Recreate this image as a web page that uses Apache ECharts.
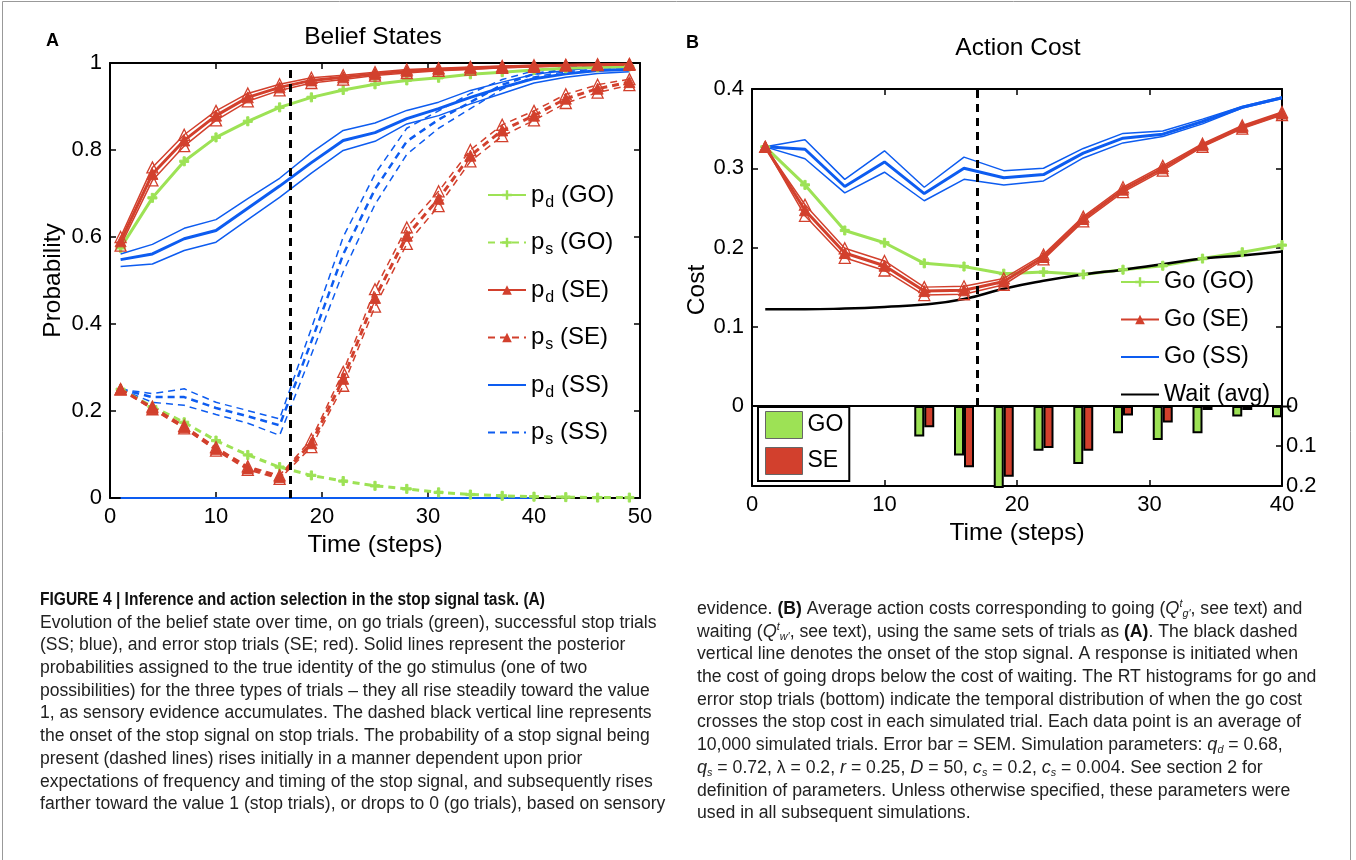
<!DOCTYPE html>
<html lang="en">
<head>
<meta charset="UTF-8">
<title>stop signal task</title>
<script src="https://cdn.jsdelivr.net/npm/echarts@6/dist/echarts.min.js"></script>
<style>
    html, body { margin: 0; padding: 0; background: #fff; }
    #main { width: 1356px; height: 860px; }
</style>
</head>
<body>
<div id="main"></div>
<script>
// ---- panel A : belief states (time steps 1..49, every 3rd step) ----
var stepsA = [1, 4, 7, 10, 13, 16, 19, 22, 25, 28, 31, 34, 37, 40, 43, 46, 49];
var pdGO = [0.575, 0.69, 0.774, 0.829, 0.866, 0.898, 0.921, 0.938, 0.951, 0.96, 0.966, 0.974, 0.979, 0.984, 0.988, 0.99, 0.992];
var psGO = [0.25, 0.21, 0.174, 0.132, 0.099, 0.071, 0.052, 0.039, 0.028, 0.021, 0.013, 0.008, 0.005, 0.003, 0.002, 0.001, 0.001];
var pdSE = [0.59, 0.745, 0.822, 0.879, 0.921, 0.944, 0.96, 0.967, 0.975, 0.981, 0.985, 0.988, 0.991, 0.993, 0.995, 0.996, 0.997];
var pdSEhi = [0.6, 0.76, 0.835, 0.89, 0.93, 0.951, 0.966, 0.972, 0.979, 0.985, 0.988, 0.991, 0.993, 0.995, 0.996, 0.997, 0.998];
var pdSElo = [0.58, 0.73, 0.809, 0.868, 0.912, 0.937, 0.954, 0.962, 0.971, 0.977, 0.982, 0.985, 0.989, 0.991, 0.994, 0.995, 0.996];
var psSE = [0.25, 0.207, 0.163, 0.113, 0.069, 0.048, 0.126, 0.274, 0.46, 0.603, 0.688, 0.787, 0.845, 0.879, 0.918, 0.941, 0.956];
var psSEhi = [0.25, 0.21, 0.166, 0.117, 0.073, 0.052, 0.135, 0.29, 0.48, 0.622, 0.705, 0.8, 0.858, 0.89, 0.928, 0.95, 0.963];
var psSElo = [0.25, 0.204, 0.16, 0.109, 0.065, 0.044, 0.117, 0.258, 0.44, 0.584, 0.671, 0.774, 0.832, 0.868, 0.908, 0.932, 0.949];
var pdSS = [0.548, 0.561, 0.596, 0.615, 0.666, 0.717, 0.771, 0.822, 0.84, 0.872, 0.895, 0.921, 0.944, 0.964, 0.975, 0.983, 0.985];
var pdSShi = [0.561, 0.583, 0.62, 0.64, 0.688, 0.735, 0.794, 0.845, 0.862, 0.891, 0.91, 0.937, 0.956, 0.974, 0.983, 0.99, 0.99];
var pdSSlo = [0.532, 0.538, 0.569, 0.588, 0.64, 0.691, 0.747, 0.799, 0.82, 0.86, 0.879, 0.906, 0.93, 0.954, 0.967, 0.976, 0.98];
var psSS = [0.25, 0.232, 0.232, 0.207, 0.188, 0.167, 0.36, 0.56, 0.71, 0.82, 0.87, 0.91, 0.95, 0.975, 0.985, 0.99, 0.99];
var psSShi = [0.25, 0.24, 0.251, 0.22, 0.201, 0.182, 0.39, 0.6, 0.745, 0.85, 0.89, 0.93, 0.962, 0.982, 0.99, 0.994, 0.994];
var psSSlo = [0.25, 0.22, 0.213, 0.192, 0.172, 0.144, 0.33, 0.52, 0.675, 0.79, 0.85, 0.895, 0.94, 0.968, 0.98, 0.986, 0.986];
var baseSS = [0, 0, 0, 0, 0, 0, 0, 0, 0, 0, 0, 0, 0, 0];

// ---- panel B : action cost (time steps 1..40) ----
var stepsB = [1, 4, 7, 10, 13, 16, 19, 22, 25, 28, 31, 34, 37, 40];
var goGO = [0.327, 0.279, 0.2215, 0.206, 0.18, 0.176, 0.167, 0.169, 0.166, 0.172, 0.177, 0.186, 0.194, 0.203];
var goSE = [0.327, 0.247, 0.193, 0.177, 0.145, 0.146, 0.157, 0.188, 0.236, 0.273, 0.3, 0.329, 0.352, 0.369];
var goSEhi = [0.327, 0.254, 0.199, 0.183, 0.15, 0.151, 0.161, 0.191, 0.239, 0.276, 0.303, 0.331, 0.354, 0.371];
var goSElo = [0.327, 0.24, 0.187, 0.171, 0.14, 0.141, 0.153, 0.185, 0.233, 0.27, 0.297, 0.327, 0.35, 0.367];
var goSS = [0.327, 0.324, 0.277, 0.308, 0.268, 0.3, 0.288, 0.292, 0.319, 0.338, 0.343, 0.359, 0.377, 0.389];
var goSShi = [0.327, 0.336, 0.286, 0.322, 0.276, 0.314, 0.297, 0.3, 0.325, 0.344, 0.347, 0.362, 0.378, 0.39];
var goSSlo = [0.327, 0.312, 0.269, 0.295, 0.259, 0.286, 0.279, 0.284, 0.313, 0.332, 0.34, 0.356, 0.376, 0.388];
var waitAvg = [0.122, 0.122, 0.123, 0.125, 0.128, 0.135, 0.148, 0.158, 0.166, 0.172, 0.179, 0.186, 0.19, 0.195];

// RT histograms (bottom of panel B)
var histSteps = [13, 16, 19, 22, 25, 28, 31, 34, 37, 40];
var histGO = [0.076, 0.124, 0.205, 0.112, 0.145, 0.068, 0.085, 0.068, 0.026, 0.028];
var histSE = [0.053, 0.153, 0.177, 0.105, 0.112, 0.024, 0.041, 0.01, 0.01, 0.003];

var stopOnset = 17;

// tick ranges
var ticksA = {xmin: 0, xmax: 50, xstep: 10, ymin: 0, ymax: 1, ystep: 0.2};
var ticksB = {xmin: 0, xmax: 40, xstep: 10, ymin: 0, ymax: 0.4, ystep: 0.1, hmax: 0.2, hstep: 0.1};

var FONT = 'Liberation Sans';
var GREEN = '#9de255', RED = '#d2402d', BLUE = '#0d5cf0';
var PLUS = 'path://M3,0H5V3H8V5H5V8H3V5H0V3H3Z';
var TRI = 'path://M5,0L10,9H0Z';

function pts(xs, ys) {
    return xs.map(function (x, i) { return [x, ys[i]]; });
}

function line(name, xi, xs, ys, color, width, dashed, symbol, size) {
    var s = {
        name: name,
        type: 'line',
        xAxisIndex: xi,
        yAxisIndex: xi,
        data: pts(xs, ys),
        symbol: symbol || 'circle',
        symbolSize: size || 8,
        showSymbol: !!symbol,
        lineStyle: {color: color, width: width, type: dashed ? [7, 5] : 'solid'},
        itemStyle: {color: symbol ? color : 'rgba(0,0,0,0)', borderColor: color},
        z: 3,
        silent: true
    };
    if (symbol === TRI) {
        // hollow triangles on the +/- SEM curves
        s.itemStyle = {color: 'rgba(0,0,0,0)', borderColor: color, borderWidth: 1.3};
    }
    return s;
}

function axis(extra) {
    var a = {
        axisLine: {show: true, onZero: false, lineStyle: {color: '#000', width: 2}},
        axisTick: {show: true, inside: true, length: 6, lineStyle: {color: '#000', width: 1.5}},
        splitLine: {show: false},
        axisLabel: {show: true, color: '#000', fontSize: 22, fontFamily: FONT, margin: 8}
    };
    for (var k in extra) a[k] = extra[k];
    return a;
}
var noLabel = {show: false};
var nameStyle = {color: '#000', fontSize: 24.5, fontFamily: FONT};

var vline = {
    silent: true,
    symbol: 'none',
    label: {show: false},
    lineStyle: {color: '#000', type: [8, 6], width: 3},
    data: [{xAxis: stopOnset}]
};

var series = [
    line('p_d (SS)', 0, stepsA, pdSS, BLUE, 3, false),
    line('pdSS hi', 0, stepsA, pdSShi, BLUE, 1.5, false),
    line('pdSS lo', 0, stepsA, pdSSlo, BLUE, 1.5, false),
    line('p_s (SS)', 0, stepsA, psSS, BLUE, 2.5, true),
    line('psSS hi', 0, stepsA, psSShi, BLUE, 1.5, true),
    line('psSS lo', 0, stepsA, psSSlo, BLUE, 1.5, true),
    line('base SS', 0, stepsB, baseSS, BLUE, 2, false),
    line('p_d (GO)', 0, stepsA, pdGO, GREEN, 3, false, PLUS, 9),
    line('p_s (GO)', 0, stepsA, psGO, GREEN, 3, true, PLUS, 9),
    line('pdSE hi', 0, stepsA, pdSEhi, RED, 1.5, false, TRI, 11),
    line('pdSE lo', 0, stepsA, pdSElo, RED, 1.5, false, TRI, 11),
    line('p_d (SE)', 0, stepsA, pdSE, RED, 3, false, 'triangle', 11),
    line('psSE hi', 0, stepsA, psSEhi, RED, 1.5, true, TRI, 11),
    line('psSE lo', 0, stepsA, psSElo, RED, 1.5, true, TRI, 11),
    line('p_s (SE)', 0, stepsA, psSE, RED, 3, true, 'triangle', 11),

    line('Go (GO)', 2, stepsB, goGO, GREEN, 3, false, PLUS, 9),
    line('goSE hi', 2, stepsB, goSEhi, RED, 1.5, false, TRI, 11),
    line('goSE lo', 2, stepsB, goSElo, RED, 1.5, false, TRI, 11),
    line('Go (SE)', 2, stepsB, goSE, RED, 3, false, 'triangle', 11),
    line('goSS hi', 2, stepsB, goSShi, BLUE, 1.5, false),
    line('goSS lo', 2, stepsB, goSSlo, BLUE, 1.5, false),
    line('Go (SS)', 2, stepsB, goSS, BLUE, 3, false),
    line('Wait (avg)', 2, stepsB, waitAvg, '#000', 2.5, false)
];
series[7].markLine = vline;
series[series.length - 1].smooth = true;
series[series.length - 1].markLine = vline;

series.push({
    name: 'GO', type: 'bar', xAxisIndex: 4, yAxisIndex: 4,
    data: pts(histSteps, histGO), barWidth: 10, barGap: '0%', clip: false,
    itemStyle: {color: GREEN, borderColor: '#000', borderWidth: 2}, silent: true
});
series.push({
    name: 'SE', type: 'bar', xAxisIndex: 4, yAxisIndex: 4,
    data: pts(histSteps, histSE), barWidth: 10, barGap: '0%', clip: false,
    itemStyle: {color: RED, borderColor: '#000', borderWidth: 2}, silent: true
});

var capHead = 'FIGURE 4 | Inference and action selection in the stop signal task. (A)';
var capLeft = [
    'Evolution of the belief state over time, on go trials (green), successful stop trials',
    '(SS; blue), and error stop trials (SE; red). Solid lines represent the posterior',
    'probabilities assigned to the true identity of the go stimulus (one of two',
    'possibilities) for the three types of trials \u2013 they all rise steadily toward the value',
    '1, as sensory evidence accumulates. The dashed black vertical line represents',
    'the onset of the stop signal on stop trials. The probability of a stop signal being',
    'present (dashed lines) rises initially in a manner dependent upon prior',
    'expectations of frequency and timing of the stop signal, and subsequently rises',
    'farther toward the value 1 (stop trials), or drops to 0 (go trials), based on sensory'
];
var capRight = [
    'evidence. {b|(B)} Average action costs corresponding to going ({i|Q}{sup|t}{sub|g\'}, see text) and',
    'waiting ({i|Q}{sup|t}{sub|w\'}, see text), using the same sets of trials as {b|(A)}. The black dashed',
    'vertical line denotes the onset of the stop signal. A response is initiated when',
    'the cost of going drops below the cost of waiting. The RT histograms for go and',
    'error stop trials (bottom) indicate the temporal distribution of when the go cost',
    'crosses the stop cost in each simulated trial. Each data point is an average of',
    '10,000 simulated trials. Error bar = SEM. Simulation parameters: {i|q}{sub|d} = 0.68,',
    '{i|q}{sub|s} = 0.72, \u03bb = 0.2, {i|r} = 0.25, {i|D} = 50, {i|c}{sub|s} = 0.2, {i|c}{sub|s} = 0.004. See section 2 for',
    'definition of parameters. Unless otherwise specified, these parameters were',
    'used in all subsequent simulations.'
];
var capRich = {
    b: {fontFamily: FONT, fontSize: 18, fontWeight: 'bold', fill: '#111'},
    i: {fontFamily: FONT, fontSize: 18.5, fontStyle: 'italic', fill: '#222'},
    sup: {fontFamily: FONT, fontSize: 11, fontStyle: 'italic', fill: '#222', padding: [0, 0, 10, 0]},
    sub: {fontFamily: FONT, fontSize: 11, fontStyle: 'italic', fill: '#222', padding: [10, 0, 0, 0]}
};

var graphics = [
    {type: 'rect', shape: {x: 2.5, y: 1.5, width: 1348, height: 870}, style: {fill: 'none', stroke: '#999', lineWidth: 1}, silent: true},
    {type: 'text', x: 46, y: 41, style: {text: 'A', fontFamily: FONT, fontSize: 18, fontWeight: 'bold', fill: '#000', verticalAlign: 'middle'}},
    {type: 'text', x: 686, y: 43, style: {text: 'B', fontFamily: FONT, fontSize: 18, fontWeight: 'bold', fill: '#000', verticalAlign: 'middle'}},
    {type: 'text', x: 373, y: 37, style: {text: 'Belief States', fontFamily: FONT, fontSize: 24.5, fill: '#000', align: 'center', verticalAlign: 'middle'}},
    {type: 'text', x: 1018, y: 48, style: {text: 'Action Cost', fontFamily: FONT, fontSize: 24.5, fill: '#000', align: 'center', verticalAlign: 'middle'}},
    {type: 'text', x: 697, y: 290, rotation: Math.PI / 2, style: {text: 'Cost', fontFamily: FONT, fontSize: 24.5, fill: '#000', align: 'center', verticalAlign: 'middle'}},
    {type: 'text', x: 40, y: 600, scaleX: 0.863, style: {text: capHead, fontFamily: FONT, fontSize: 18, fontWeight: 'bold', fill: '#111', verticalAlign: 'middle'}}
];
capLeft.forEach(function (t, i) {
    graphics.push({type: 'text', x: 40, y: 622.7 + i * 22.7, scaleX: 0.975, style: {
        text: t, rich: capRich, fontFamily: FONT, fontSize: 18, fill: '#222', verticalAlign: 'middle'}});
});
capRight.forEach(function (t, i) {
    graphics.push({type: 'text', x: 697, y: 609 + i * 22.7, scaleX: 0.98, style: {
        text: t, rich: capRich, fontFamily: FONT, fontSize: 18, fill: '#222', verticalAlign: 'middle'}});
});

var legendText = {color: '#000', fontSize: 24, fontFamily: FONT,
    rich: {s: {fontSize: 16, fontFamily: FONT, color: '#000', padding: [15, 0, 0, 1]}}};

var option = {
    animation: false,
    backgroundColor: '#fff',
    grid: [
        {left: 110, top: 63, width: 530, height: 435},
        {left: 752, top: 89, width: 530, height: 317},
        {left: 752, top: 406, width: 530, height: 80}
    ],
    xAxis: [
        axis({type: 'value', gridIndex: 0, position: 'bottom', min: ticksA.xmin, max: ticksA.xmax, interval: ticksA.xstep,
            name: 'Time (steps)', nameLocation: 'middle', nameGap: 27, nameTextStyle: nameStyle}),
        axis({type: 'value', gridIndex: 0, position: 'top', min: ticksA.xmin, max: ticksA.xmax, interval: ticksA.xstep, axisLabel: noLabel}),
        axis({type: 'value', gridIndex: 1, position: 'bottom', min: ticksB.xmin, max: ticksB.xmax, interval: ticksB.xstep, axisLabel: noLabel, axisTick: {show: false}}),
        axis({type: 'value', gridIndex: 1, position: 'top', min: ticksB.xmin, max: ticksB.xmax, interval: ticksB.xstep, axisLabel: noLabel}),
        axis({type: 'value', gridIndex: 2, position: 'bottom', min: ticksB.xmin, max: ticksB.xmax, interval: ticksB.xstep,
            name: 'Time (steps)', nameLocation: 'middle', nameGap: 35, nameTextStyle: nameStyle})
    ],
    yAxis: [
        axis({type: 'value', gridIndex: 0, position: 'left', min: ticksA.ymin, max: ticksA.ymax, interval: ticksA.ystep,
            name: 'Probability', nameLocation: 'middle', nameGap: 44, nameTextStyle: nameStyle}),
        axis({type: 'value', gridIndex: 0, position: 'right', min: ticksA.ymin, max: ticksA.ymax, interval: ticksA.ystep, axisLabel: noLabel}),
        axis({type: 'value', gridIndex: 1, position: 'left', min: ticksB.ymin, max: ticksB.ymax, interval: ticksB.ystep}),
        axis({type: 'value', gridIndex: 1, position: 'right', min: ticksB.ymin, max: ticksB.ymax, interval: ticksB.ystep, axisLabel: noLabel}),
        axis({type: 'value', gridIndex: 2, position: 'right', inverse: true, min: 0, max: ticksB.hmax, interval: ticksB.hstep,
            axisLabel: {show: true, color: '#000', fontSize: 22, fontFamily: FONT, margin: 4}}),
        axis({type: 'value', gridIndex: 2, position: 'left', min: 0, max: ticksB.hmax, interval: ticksB.hstep, axisLabel: noLabel, axisTick: {show: false}})
    ],
    legend: [
        {
            data: ['p_d (GO)', 'p_s (GO)', 'p_d (SE)', 'p_s (SE)', 'p_d (SS)', 'p_s (SS)'],
            orient: 'vertical', left: 487, top: 183, padding: 0, itemWidth: 38, itemHeight: 12, itemGap: 20,
            selectedMode: false, textStyle: legendText,
            formatter: function (n) { return n.replace(/p_(\w)/, 'p{s|$1}'); }
        },
        {
            data: ['Go (GO)', 'Go (SE)', 'Go (SS)', 'Wait (avg)'],
            orient: 'vertical', left: 1120, top: 270, padding: 0, itemWidth: 38, itemHeight: 12, itemGap: 13.5,
            selectedMode: false, textStyle: {color: '#000', fontSize: 23.5, fontFamily: FONT}
        },
        {
            data: ['GO', 'SE'],
            orient: 'vertical', left: 758, top: 407, itemWidth: 37, itemHeight: 27, itemGap: 8,
            padding: [4, 6, 6, 7], icon: 'rect', backgroundColor: '#fff', borderColor: '#000', borderWidth: 2,
            itemStyle: {borderColor: '#666', borderWidth: 1},
            selectedMode: false, textStyle: {color: '#000', fontSize: 23, fontFamily: FONT}
        }
    ],
    graphic: graphics,
    series: series
};

var chart = echarts.init(document.getElementById('main'), null, {renderer: 'canvas'});
chart.setOption(option);
</script>
</body>
</html>
